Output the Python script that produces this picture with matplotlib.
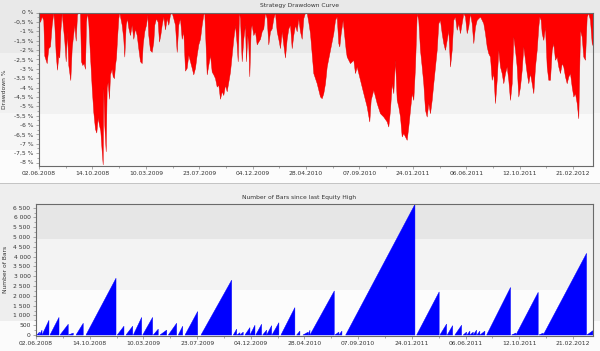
import matplotlib
matplotlib.use("Agg")
import matplotlib.pyplot as plt
from matplotlib.patches import Rectangle
from matplotlib.ticker import MultipleLocator, FixedLocator

# ---------------- data ----------------
# x axis = bar number (hundreds of bars)
date_labels = ["02.06.2008", "14.10.2008", "10.03.2009", "23.07.2009", "04.12.2009",
               "28.04.2010", "07.09.2010", "24.01.2011", "06.06.2011", "12.10.2011",
               "21.02.2012"]
tick_step = 53.4
x_max = 554.0

dd_x = [0.0, 1.0, 2.7, 4.3, 5.3, 7.7, 9.3, 11.0, 12.7, 14.3, 15.3, 16.7, 18.0, 19.3, 20.3,
        21.3, 22.7, 23.7, 25.3, 26.7, 28.0, 29.3, 31.3, 32.7, 33.7, 35.3, 36.7, 38.0, 39.3,
        41.0, 42.0, 43.3, 44.7, 46.0, 47.0, 48.0, 49.3, 51.0, 52.7, 54.3, 56.0, 57.3, 58.7,
        60.0, 61.3, 62.7, 63.7, 64.3, 65.3, 66.7, 67.7, 68.7, 70.0, 71.0, 72.7, 73.7, 75.0,
        76.0, 77.0, 78.0, 79.3, 80.3, 82.7, 84.3, 85.3, 86.7, 88.0, 89.3, 91.0, 92.7, 94.3,
        96.0, 97.7, 99.3, 101.0, 102.7, 103.7, 105.3, 107.0, 108.3, 109.3, 111.0, 112.7,
        114.3, 115.3, 117.0, 118.7, 120.0, 121.3, 122.7, 124.3, 126.0, 127.7, 129.3, 131.0,
        132.7, 134.3, 136.0, 137.7, 139.3, 141.0, 142.7, 144.3, 146.0, 147.7, 149.3, 151.0,
        152.7, 154.3, 156.0, 157.7, 159.3, 161.0, 162.7, 164.3, 165.3, 166.7, 167.7, 169.3,
        171.0, 172.7, 174.3, 176.0, 177.7, 179.3, 181.0, 182.7, 184.3, 186.0, 187.7, 189.3,
        191.0, 192.7, 194.3, 196.0, 197.7, 198.7, 200.0, 201.0, 202.7, 204.3, 206.0, 207.0,
        208.3, 209.3, 210.3, 211.7, 212.7, 214.3, 216.0, 217.7, 219.3, 221.0, 222.7, 224.3,
        226.0, 227.7, 229.3, 231.0, 232.7, 234.3, 236.0, 237.7, 239.3, 241.0, 242.7, 244.3,
        246.0, 247.7, 249.3, 251.0, 252.7, 254.3, 256.0, 257.7, 259.3, 261.0, 262.7, 264.3,
        266.0, 267.7, 269.3, 271.0, 274.3, 277.7, 281.0, 282.7, 284.3, 286.0, 287.7, 291.0,
        294.3, 296.0, 297.7, 299.3, 300.3, 301.7, 303.7, 305.0, 306.7, 307.7, 311.0, 314.3,
        316.0, 317.7, 321.0, 324.3, 327.7, 330.3, 331.7, 334.3, 337.7, 341.0, 344.3, 347.7,
        349.3, 351.0, 352.7, 354.3, 356.0, 357.7, 359.3, 361.0, 362.7, 364.3, 366.0, 367.7,
        369.3, 371.0, 372.7, 374.3, 376.0, 377.7, 379.3, 381.0, 382.7, 384.3, 386.0, 387.7,
        389.3, 391.0, 392.7, 394.3, 396.0, 397.7, 399.3, 401.0, 402.7, 404.3, 406.0, 407.7,
        409.3, 411.0, 412.7, 414.3, 416.0, 417.7, 419.3, 421.0, 424.3, 426.0, 427.7, 429.3,
        431.0, 432.7, 434.3, 436.0, 437.7, 441.0, 442.7, 444.3, 446.0, 447.7, 449.3, 451.0,
        452.7, 454.3, 456.0, 457.7, 459.3, 461.0, 462.7, 464.3, 466.0, 467.7, 469.3, 471.0,
        472.7, 474.3, 476.0, 477.7, 479.3, 481.0, 482.7, 484.3, 486.0, 487.7, 489.3, 491.0,
        492.7, 494.3, 496.0, 497.7, 499.3, 500.3, 501.7, 502.7, 504.3, 506.0, 507.7, 509.3,
        511.0, 512.7, 514.3, 516.0, 517.7, 519.3, 521.0, 522.7, 524.3, 526.0, 527.7, 529.3,
        531.0, 532.7, 534.3, 536.0, 537.7, 539.3, 541.0, 542.7, 544.3, 546.0, 547.7, 549.3,
        551.0, 552.7, 554.0]
dd_pct = [-0.2, -0.5, -0.2, -0.4, -2.3, -2.7, -1.9, -1.8, -0.65, 0.0, -0.6, -2.2, -3.05, -2.3,
          -2.4, -1.0, 0.0, -0.6, -1.5, -2.6, -1.0, -2.8, -3.6, -1.9, -1.4, -0.65, -1.5, -0.1,
          0.0, -0.05, -2.6, -2.8, -2.7, -3.0, -0.5, 0.0, -0.5, -2.3, -4.0, -5.3, -6.2, -6.4,
          -5.6, -6.0, -6.3, -7.4, -8.1, -4.0, -6.0, -7.4, -4.0, -3.7, -4.6, -3.3, -3.0, -3.4,
          -3.5, -2.8, -2.4, -1.4, -0.3, 0.0, -0.65, -1.4, -2.35, -0.65, -0.3, -0.8, -1.2,
          -0.65, -1.4, -0.85, -1.2, -1.9, -2.6, -2.7, -1.7, -1.0, -0.65, -0.1, -1.2, -2.0,
          -2.1, -1.55, -0.65, -0.3, -0.5, -1.55, -1.2, -0.65, -0.2, -0.9, -0.3, -0.65, -0.1,
          0.0, -0.3, -0.65, -2.1, -0.65, -0.3, -1.4, -1.0, -3.1, -2.95, -2.25, -2.6, -2.95,
          -3.3, -2.95, -2.25, -1.7, -1.4, -0.65, -0.1, 0.0, -1.9, -3.3, -2.8, -2.25, -3.15,
          -3.3, -3.5, -3.95, -3.85, -4.6, -4.2, -4.4, -3.85, -4.2, -3.7, -3.15, -2.25, -1.4,
          -0.65, -1.7, -2.6, 0.0, -0.3, -2.6, -1.4, -0.65, -2.6, -1.2, -1.7, -3.4, -0.85,
          -0.65, -1.2, -1.0, -1.7, -1.55, -1.4, -1.0, -0.85, 0.0, -0.3, -1.7, -1.0, -0.85,
          -0.3, 0.0, -1.0, -1.4, -1.9, -1.0, -1.7, -2.4, -1.4, -0.85, -0.65, -1.9, -1.2,
          -0.65, -1.0, -0.3, -1.0, -1.4, -0.3, 0.0, 0.0, -0.5, -1.10, -3.23, -3.77, -4.48,
          -4.57, -4.30, -3.77, -2.88, -1.99, -1.10, -0.39, -0.21, -1.63, -1.81, -1.10, -0.39,
          -1.10, -1.99, -2.35, -2.70, -2.52, -3.23, -2.88, -3.59, -4.30, -5.01, -5.81, -4.66,
          -4.12, -4.83, -5.37, -5.55, -5.81, -6.08, -5.19, -3.77, -4.30, -2.52, -4.66, -5.01,
          -5.55, -6.61, -6.43, -6.61, -6.79, -6.08, -5.19, -4.30, -4.66, -2.88, -0.03, -0.39,
          -1.99, -2.88, -3.77, -5.19, -5.55, -4.83, -5.37, -4.66, -3.77, -2.88, -1.99, -0.57,
          -0.39, -1.10, -1.63, -1.99, -1.46, -0.92, -2.88, -1.99, -0.39, -0.21, -0.92, -0.57,
          -1.10, -0.03, -0.21, -1.10, -0.75, -0.03, -0.57, -1.63, -0.75, -0.39, -0.21, -0.39,
          -0.57, -1.10, -1.81, -2.17, -2.35, -3.59, -3.23, -4.83, -3.59, -1.99, -2.88, -3.23,
          -3.77, -3.23, -2.88, -3.59, -4.66, -3.77, -1.28, -1.99, -2.88, -4.48, -3.95, -3.06,
          -1.81, -2.52, -3.23, -3.77, -3.23, -3.77, -4.30, -2.88, -1.99, -0.75, -0.21, -0.39,
          -1.10, -1.46, -0.75, -2.88, -3.59, -3.59, -1.99, -1.63, -2.52, -2.35, -2.88, -3.23,
          -2.70, -2.88, -3.41, -3.77, -3.41, -3.23, -3.95, -4.48, -4.30, -4.83, -5.64, -0.92,
          -1.28, -2.35, -2.52, -0.21, -0.03, -0.39, -1.63, -1.8]

# bars since last equity high: each run grows from its start to its peak at its end
run_start = [1.0, 3.5, 6.0, 13.9, 23.9, 32.1, 39.8, 49.7, 80.8, 89.5, 96.8, 106.1, 116.6,
             123.3, 131.6, 141.5, 148.2, 164.1, 196.2, 199.9, 202.9, 207.8, 212.8, 218.5,
             225.4, 229.4, 234.7, 243.6, 259.2, 265.5, 270.8, 272.5, 297.3, 301.3, 308.0,
             378.6, 401.7, 409.0, 416.6, 424.9, 428.6, 431.6, 434.9, 438.5, 441.5, 448.2,
             473.0, 477.3, 500.2, 504.5, 547.9]
run_end = [3.5, 6.0, 12.9, 22.9, 32.1, 37.1, 47.0, 79.6, 87.5, 96.2, 105.1, 116.0, 121.6,
           130.0, 139.9, 145.9, 160.8, 194.6, 199.6, 202.9, 206.1, 212.8, 217.8, 224.4,
           229.4, 234.4, 241.6, 257.5, 262.5, 270.8, 272.5, 296.7, 301.3, 304.3, 376.9,
           401.0, 408.4, 414.4, 423.3, 428.3, 431.6, 434.9, 438.2, 441.5, 446.5, 472.0,
           477.3, 499.5, 504.5, 547.6, 553.9]
run_peak = [150, 250, 750, 900, 550, 100, 600, 2900, 450, 450, 900, 900, 300, 250, 600, 450,
            1200, 2800, 300, 120, 150, 380, 500, 550, 250, 480, 630, 1400, 200, 150, 250,
            2250, 150, 200, 6670, 2200, 560, 480, 500, 150, 200, 150, 250, 200, 200, 2430,
            100, 2180, 100, 4170, 220]

dd_ticks = [0, -0.5, -1, -1.5, -2, -2.5, -3, -3.5, -4, -4.5, -5, -5.5, -6, -6.5, -7, -7.5, -8]
bars_ticks = list(range(0, 6501, 500))

# ---------------- figure ----------------
W, H = 600, 351
fig = plt.figure(figsize=(W / 100, H / 100), dpi=100)
fig.patch.set_facecolor("white")

def fig_band(y0, y1, color):
    fig.patches.append(Rectangle((0, 1 - y1 / H), 1, (y1 - y0) / H, transform=fig.transFigure,
                                 facecolor=color, edgecolor="none", zorder=-10))

fig_band(0, 53, "#e9e9e9")
fig_band(53, 113, "#f1f1f1")
fig_band(113, 150, "#f6f6f6")
fig_band(150, 183, "#fcfcfc")
fig_band(183, 184.2, "#c4c4c4")
fig_band(184.2, 321, "#eeeeee")
fig_band(321, 351, "#fbfbfb")

txt = "#333333"
frame = "#6a6a6a"
fs = 4.3

def fmt_pct(v):
    s = ("%g" % v).replace(".", ",")
    return s + " %"

def fmt_bars(v):
    v = int(v)
    return "{:,}".format(v).replace(",", " ")

def style(ax):
    ax.set_facecolor("none")
    for sp in ax.spines.values():
        sp.set_color(frame)
        sp.set_linewidth(0.8)
    ax.tick_params(axis="both", which="both", colors="#888888", labelcolor=txt,
                   labelsize=fs, length=2.5, width=0.5, pad=1.5)
    ax.tick_params(axis="both", which="minor", length=1.5)
    ax.set_xlim(0, x_max)
    ax.set_xticks([i * tick_step for i in range(len(date_labels))])
    ax.set_xticklabels(date_labels)
    ax.xaxis.set_minor_locator(FixedLocator([(i + 0.5) * tick_step for i in range(len(date_labels))]))

# top: drawdown
ax1 = fig.add_axes([39 / W, 1 - 165.5 / H, (593 - 39) / W, (165.5 - 12.5) / H])
style(ax1)
ylo = -8.16
ax1.axhspan(-2.17, 0.05, color="#e9e9e9", zorder=0, lw=0)
ax1.axhspan(-5.4, -2.17, color="#f2f2f2", zorder=0, lw=0)
ax1.axhspan(ylo, -5.4, color="#fafafa", zorder=0, lw=0)
ax1.fill_between(dd_x, dd_pct, 0, color="#ff0000", lw=0.3, edgecolor="#e00000", zorder=2)
ax1.set_ylim(ylo, 0)
ax1.set_yticks(dd_ticks)
ax1.set_yticklabels([fmt_pct(v) for v in dd_ticks])
ax1.yaxis.set_minor_locator(MultipleLocator(0.25))
ax1.set_ylabel("Drawdown %", fontsize=fs, color=txt)
ax1.yaxis.set_label_coords((7.5 - 39) / 554, 0.5)
fig.text(299 / W, 1 - 5.5 / H, "Strategy Drawdown Curve", ha="center", va="center",
         fontsize=fs, color=txt)

# bottom: bars since high
ax2 = fig.add_axes([36 / W, 1 - 335.5 / H, (593 - 36) / W, (335.5 - 204.3) / H])
style(ax2)
ax2.set_ylim(-25, 6673)
ax2.axhspan(4900, 6673, color="#e6e6e6", zorder=0, lw=0)
ax2.axhspan(2300, 4900, color="#f3f3f3", zorder=0, lw=0)
ax2.axhspan(-25, 2300, color="#fcfcfc", zorder=0, lw=0)
for s, e, p in zip(run_start, run_end, run_peak):
    ax2.fill([s, e, e], [0, p, 0], color="#0000ff", lw=0.3, zorder=2)
ax2.set_yticks(bars_ticks)
ax2.set_yticklabels([fmt_bars(v) for v in bars_ticks])
ax2.yaxis.set_minor_locator(MultipleLocator(250))
ax2.set_ylabel("Number of Bars", fontsize=fs, color=txt)
ax2.yaxis.set_label_coords((8.5 - 36) / 557, 0.5)
fig.text(299 / W, 1 - 197 / H, "Number of Bars since last Equity High", ha="center",
         va="center", fontsize=fs, color=txt)

fig.savefig("out.png", dpi=100)
